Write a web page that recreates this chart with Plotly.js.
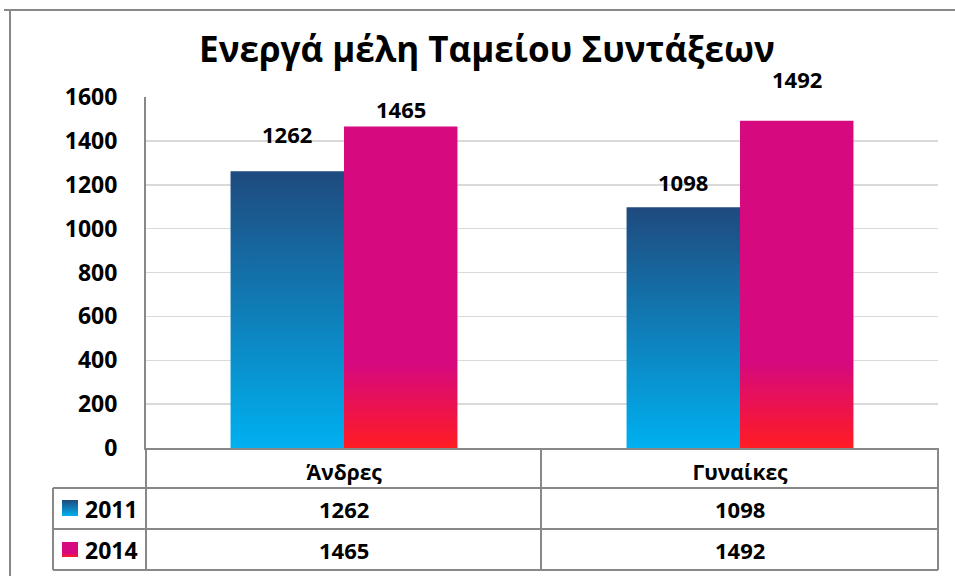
<!DOCTYPE html>
<html><head><meta charset="utf-8">
<script src="https://cdn.plot.ly/plotly-3.0.1.min.js"></script>
<style>html,body{margin:0;padding:0;background:#fff;} #chart{width:955px;height:576px;}</style>
</head><body><div id="chart"></div>
<script>
// ---- data ----
const categories = ['Άνδρες', 'Γυναίκες'];
const seriesNames = ['2011', '2014'];
const values2011 = [1262, 1098];
const values2014 = [1465, 1492];
const yTicks = [0, 200, 400, 600, 800, 1000, 1200, 1400, 1600];
const chartTitle = 'Ενεργά μέλη Ταμείου Συντάξεων';

// ---- styling / layout helpers ----
const W = 955, H = 576, L = 146, R = 938, T = 97, B = 448;
const px = x => (x - L) / (R - L);
const py = y => (B - y) / (B - T);
const GRAY = '#888888';
const FONT = 'Open Sans, Liberation Sans, sans-serif';
const labelShift = [[37, 25], [18, 42]];   // px above bar top for value labels
const labelXShift = [-57, 57];
const rowCenters = [509, 550];
const seriesFallback = ['#1670AE', '#D6097E'];

const series = [values2011, values2014];
const data = series.map((vals, i) => ({
  type: 'bar', x: categories, y: vals, name: seriesNames[i],
  marker: {color: seriesFallback[i], line: {width: 0}},
  hoverinfo: 'none', showlegend: false
}));

const lineShape = (x0, y0, x1, y1, w) => ({
  type: 'line', xref: 'paper', yref: 'paper',
  x0: px(x0), y0: py(y0), x1: px(x1), y1: py(y1),
  line: {color: GRAY, width: w || 2}
});
const shapes = [
  lineShape(53, 488, 938, 488),
  lineShape(53, 529, 938, 529),
  lineShape(53, 570, 938, 570),
  lineShape(53, 488, 53, 570),
  lineShape(146, 448, 146, 570),
  lineShape(541, 448, 541, 570),
  lineShape(938, 448, 938, 570),
  lineShape(4, 10, 955, 10, 2),
  lineShape(10, 10, 10, 576, 2)
];
const keyStart = shapes.length;
[[500, 516], [542, 557]].forEach(([y0, y1], i) => shapes.push({
  type: 'rect', xref: 'paper', yref: 'paper',
  x0: px(62), x1: px(78), y0: py(y1), y1: py(y0),
  fillcolor: seriesFallback[i], line: {width: 0}
}));

const boldFont = (size) => ({family: FONT, size: size, color: '#000000', weight: 'bold'});
const annotations = [];
series.forEach((vals, i) => {
  vals.forEach((v, j) => {
    annotations.push({
      x: categories[j], y: v, xref: 'x', yref: 'y', text: String(v),
      showarrow: false, xshift: labelXShift[i], yshift: labelShift[i][j],
      xanchor: 'center', yanchor: 'middle', font: boldFont(22)
    });
    annotations.push({
      x: categories[j], y: py(rowCenters[i]), xref: 'x', yref: 'paper', text: String(v),
      showarrow: false, xanchor: 'center', yanchor: 'middle', font: boldFont(22)
    });
  });
  annotations.push({
    x: px(83), y: py(rowCenters[i]), xref: 'paper', yref: 'paper', text: seriesNames[i],
    showarrow: false, xanchor: 'left', yanchor: 'middle', font: boldFont(23)
  });
});

const layout = {
  width: W, height: H,
  margin: {l: L, r: W - R, t: T, b: H - B, pad: 0},
  paper_bgcolor: '#ffffff', plot_bgcolor: '#ffffff',
  title: {text: chartTitle, font: {family: FONT, size: 35, color: '#000000', weight: 'bold'},
          x: 487 / W, xanchor: 'center', xref: 'container', y: 1 - 50 / H, yanchor: 'middle', yref: 'container'},
  barmode: 'group', bargap: 0.427, bargroupgap: 0,
  xaxis: {
    showline: true, linecolor: GRAY, linewidth: 2, showgrid: false, zeroline: false,
    ticks: '', tickfont: boldFont(21), ticklabelstandoff: 5, fixedrange: true
  },
  yaxis: {
    range: [0, 1600], tickvals: yTicks, ticktext: yTicks.map(String),
    showgrid: true, gridcolor: '#D9D9D9', gridwidth: 1.5,
    showline: true, linecolor: GRAY, linewidth: 2, zeroline: false,
    ticks: '', tickfont: boldFont(23), ticklabelstandoff: 22, fixedrange: true
  },
  shapes: shapes,
  annotations: annotations
};

Plotly.newPlot('chart', data, layout, {staticPlot: true, displayModeBar: false}).then(gd => {
  const ns = 'http://www.w3.org/2000/svg';
  const svg = gd.querySelector('.main-svg');
  let defs = svg.querySelector('defs');
  if (!defs) { defs = document.createElementNS(ns, 'defs'); svg.insertBefore(defs, svg.firstChild); }
  const addGrad = (id, stops) => {
    const g = document.createElementNS(ns, 'linearGradient');
    g.setAttribute('id', id);
    g.setAttribute('x1', '0'); g.setAttribute('y1', '0'); g.setAttribute('x2', '0'); g.setAttribute('y2', '1');
    stops.forEach(([o, c]) => {
      const s = document.createElementNS(ns, 'stop');
      s.setAttribute('offset', o); s.setAttribute('stop-color', c);
      g.appendChild(s);
    });
    defs.appendChild(g);
  };
  addGrad('grad2011', [[0, '#1F4A7E'], [1, '#00B0F0']]);
  addGrad('grad2014', [[0, '#D6097E'], [0.74, '#D6097E'], [1, '#FF1C23']]);
  const gids = ['grad2011', 'grad2014'];
  gd.querySelectorAll('.barlayer .trace').forEach((t, i) => {
    t.querySelectorAll('path').forEach(p => { p.style.fill = 'url(#' + gids[i] + ')'; });
  });
  gd.querySelectorAll('.shapelayer path').forEach(p => {
    const idx = +p.getAttribute('data-index');
    if (idx >= keyStart && idx < keyStart + 2) p.style.fill = 'url(#' + gids[idx - keyStart] + ')';
  });
});
</script>
</body></html>
